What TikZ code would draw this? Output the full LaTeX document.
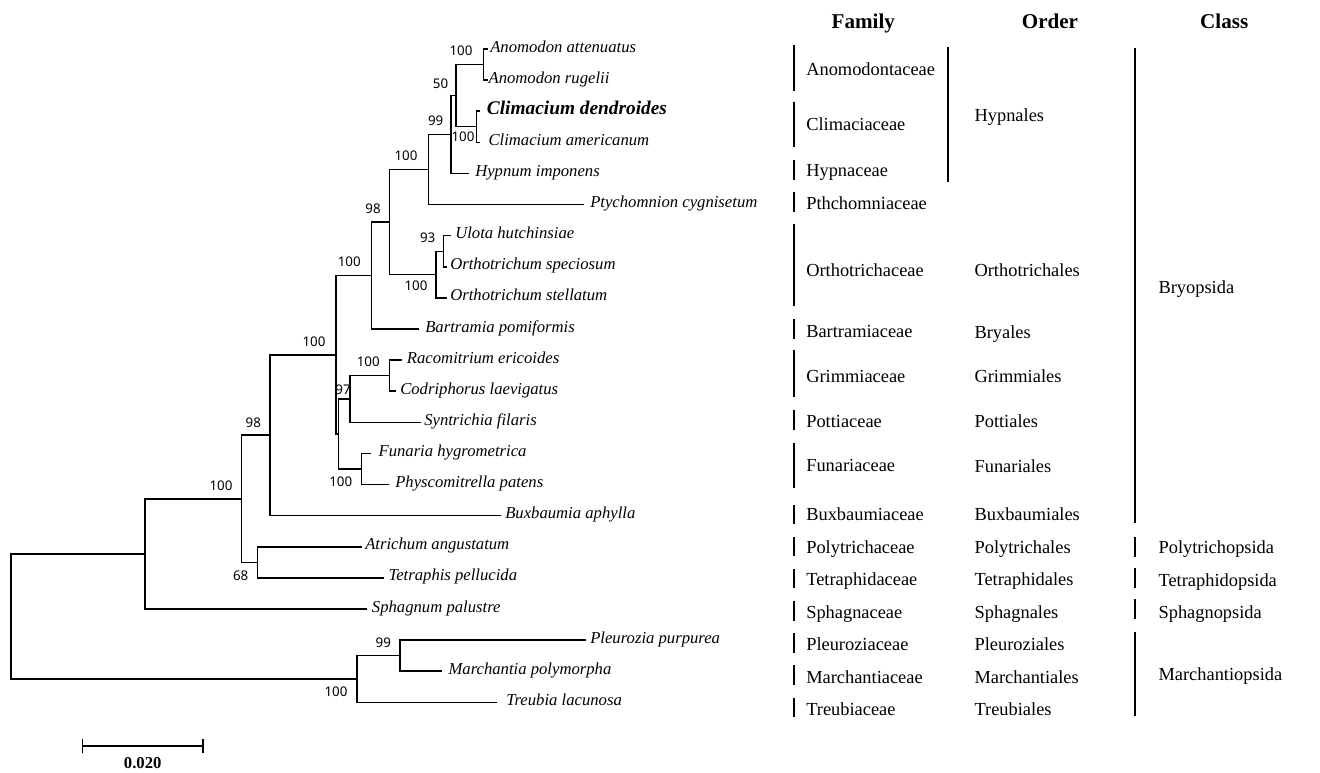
\documentclass[tikz,border=0pt]{standalone}
\usepackage{fontspec}
\setmainfont{Liberation Serif}
\newfontfamily\bootfont{Noto Sans}
\begin{document}
\begin{tikzpicture}[x=0.75pt,y=-0.75pt,
  br/.style={line width=1.1pt, line cap=rect},
  barline/.style={line width=1.7pt},
  leaf/.style={font=\fontsize{12.5}{14}\selectfont\itshape, anchor=mid west, inner sep=0pt},
  leafb/.style={font=\fontsize{14.5}{16}\selectfont\bfseries\itshape, anchor=mid west, inner sep=0pt},
  boot/.style={font=\bootfont\fontsize{10}{12}\selectfont, inner sep=0pt},
  tab/.style={font=\fontsize{13.8}{16}\selectfont, anchor=base west, inner sep=0pt},
  hdr/.style={font=\fontsize{15.8}{18}\selectfont\bfseries, anchor=base, inner sep=0pt}]
\fill[white] (0,0) rectangle (1320,772);
\useasboundingbox (0,0) rectangle (1320,772);

% ---------- leaf tips ----------
\coordinate (t0) at (487,49.0);
\coordinate (t1) at (487,80.1);
\coordinate (t2) at (479.3,111.2);
\coordinate (t3) at (479.3,142.3);
\coordinate (t4) at (468.3,173.4);
\coordinate (t5) at (583.3,204.6);
\coordinate (t6) at (450,235.7);
\coordinate (t7) at (446.7,266.8);
\coordinate (t8) at (446.7,297.9);
\coordinate (t9) at (418.3,329.0);
\coordinate (t10) at (401.7,360.1);
\coordinate (t11) at (395,391.2);
\coordinate (t12) at (420,422.3);
\coordinate (t13) at (370,453.4);
\coordinate (t14) at (388.3,484.5);
\coordinate (t15) at (500,515.7);
\coordinate (t16) at (361.7,546.8);
\coordinate (t17) at (383.3,577.9);
\coordinate (t18) at (366.7,609.0);
\coordinate (t19) at (585,640.1);
\coordinate (t20) at (441.7,671.2);
\coordinate (t21) at (496.7,702.3);

% ---------- leaf labels ----------
\node[leaf]  (L0)  at (490,49.0)   {Anomodon attenuatus};
\node[leaf]  (L1)  at (488.3,80.1) {Anomodon rugelii};
\node[leafb] (L2)  at (486.7,111.2){Climacium dendroides};
\node[leaf]  (L3)  at (488.3,142.3){Climacium americanum};
\node[leaf]  (L4)  at (475,173.4)  {Hypnum imponens};
\node[leaf]  (L5)  at (590,204.6)  {Ptychomnion cygnisetum};
\node[leaf]  (L6)  at (455,235.7)  {Ulota hutchinsiae};
\node[leaf]  (L7)  at (450,266.8)  {Orthotrichum speciosum};
\node[leaf]  (L8)  at (450,297.9)  {Orthotrichum stellatum};
\node[leaf]  (L9)  at (425,329.0)  {Bartramia pomiformis};
\node[leaf]  (L10) at (406.7,360.1){Racomitrium ericoides};
\node[leaf]  (L11) at (400,391.2)  {Codriphorus laevigatus};
\node[leaf]  (L12) at (424,422.3)  {Syntrichia filaris};
\node[leaf]  (L13) at (378.3,453.4){Funaria hygrometrica};
\node[leaf]  (L14) at (395,484.5)  {Physcomitrella patens};
\node[leaf]  (L15) at (505,515.7)  {Buxbaumia aphylla};
\node[leaf]  (L16) at (365,546.8)  {Atrichum angustatum};
\node[leaf]  (L17) at (388.3,577.9){Tetraphis pellucida};
\node[leaf]  (L18) at (371.7,609.0){Sphagnum palustre};
\node[leaf]  (L19) at (590,640.1)  {Pleurozia purpurea};
\node[leaf]  (L20) at (448.3,671.2){Marchantia polymorpha};
\node[leaf]  (L21) at (506,702.3)  {Treubia lacunosa};

% ---------- internal nodes ----------
\coordinate (nA)   at (483.3,64.55);
\coordinate (nC)   at (476.7,126.75);
\coordinate (nAC)  at (456,95.65);
\coordinate (nH)   at (451,134.5);
\coordinate (nP)   at (428.3,169.55);
\coordinate (nU)   at (443.3,251.25);
\coordinate (nO)   at (436,274.6);
\coordinate (nHO)  at (389.3,222.1);
\coordinate (nHOB) at (371.7,275.55);
\coordinate (nR)   at (389.3,375.65);
\coordinate (nRS)  at (350,398.98);
\coordinate (nF)   at (361.7,468.95);
\coordinate (nRSF) at (338.5,433.97);
\coordinate (nG)   at (336,354.76);
\coordinate (nBx)  at (270,435.2);
\coordinate (nAt)  at (257.3,562.35);
\coordinate (nM)   at (241.7,498.8);
\coordinate (nS)   at (145,553.9);
\coordinate (nPl)  at (400,655.65);
\coordinate (nMar) at (357,678.98);
\coordinate (nRoot) at (11,616.4);

% ---------- branches ----------
\draw[br] (nA) |- (t0);  \draw[br] (nA) |- (t1);
\draw[br] (nC) |- (t2);  \draw[br] (nC) |- (t3);
\draw[br] (nAC) |- (nA); \draw[br] (nAC) |- (nC);
\draw[br] (nH) |- (nAC); \draw[br] (nH) |- (t4);
\draw[br] (nP) |- (nH);  \draw[br] (nP) |- (t5);
\draw[br] (nU) |- (t6);  \draw[br] (nU) |- (t7);
\draw[br] (nO) |- (nU);  \draw[br] (nO) |- (t8);
\draw[br] (nHO) |- (nP); \draw[br] (nHO) |- (nO);
\draw[br] (nHOB) |- (nHO); \draw[br] (nHOB) |- (t9);
\draw[br] (nR) |- (t10); \draw[br] (nR) |- (t11);
\draw[br] (nRS) |- (nR); \draw[br] (nRS) |- (t12);
\draw[br] (nF) |- (t13); \draw[br] (nF) |- (t14);
\draw[br] (nRSF) |- (nRS); \draw[br] (nRSF) |- (nF);
\draw[br] (nG) |- (nHOB); \draw[br] (nG) |- (nRSF);
\draw[br] (nBx) |- (nG); \draw[br] (nBx) |- (t15);
\draw[br] (nAt) |- (t16); \draw[br] (nAt) |- (t17);
\draw[br] (nM) |- (nBx); \draw[br] (nM) |- (nAt);
\draw[br] (nS) |- (nM); \draw[br] (nS) |- (t18);
\draw[br] (nPl) |- (t19); \draw[br] (nPl) |- (t20);
\draw[br] (nMar) |- (nPl); \draw[br] (nMar) |- (t21);
\draw[br] (nRoot) |- (nS); \draw[br] (nRoot) |- (nMar);

% ---------- bootstrap values ----------
\node[boot] (bA)   at (461,50.7)   {100};
\node[boot] (bAC)  at (440.5,83.3) {50};
\node[boot] (bC)   at (463,136.7)  {100};
\node[boot] (bH)   at (435.7,120.7){99};
\node[boot] (bP)   at (406,156)    {100};
\node[boot] (bHO)  at (373,208.3)  {98};
\node[boot] (bHOB) at (349.3,262)  {100};
\node[boot] (bU)   at (427.7,237.7){93};
\node[boot] (bO)   at (416,286)    {100};
\node[boot] (bR)   at (368.3,361.7){100};
\node[boot] (bRS)  at (343,390)    {97};
\node[boot] (bF)   at (340.7,481.7){100};
\node[boot] (bG)   at (314,341.7)  {100};
\node[boot] (bBx)  at (253.3,422.3){98};
\node[boot] (bM)   at (221,486)    {100};
\node[boot] (bAt)  at (240.7,575.7){68};
\node[boot] (bPl)  at (383.3,642.7){99};
\node[boot] (bMar) at (336,691.3)  {100};

% ---------- scale bar ----------
\coordinate (s1) at (82.7,746);
\coordinate (s2) at (203,746);
\draw[br,line cap=butt] (s1) -- (s2);
\draw[br,line cap=butt] ([yshift=-5.5]s1) -- ([yshift=5.5]s1);
\draw[br,line cap=butt] ([yshift=-5.5]s2) -- ([yshift=5.5]s2);
\node[font=\fontsize{12.5}{14}\selectfont\bfseries, inner sep=0pt] (scl) at (142.7,763.5) {0.020};

% ---------- headers ----------
\node[hdr] (hF) at (863.3,28.3) {Family};
\node[hdr] (hO) at (1050,28.3) {Order};
\node[hdr] (hC) at (1224.2,28.3) {Class};

% ---------- family column ----------
\draw[barline] (794,45) -- (794,90.7);
\draw[barline] (794,101.7) -- (794,147.3);
\draw[barline] (794,160) -- (794,180);
\draw[barline] (794,191.7) -- (794,212.3);
\draw[barline] (794,224.3) -- (794,306);
\draw[barline] (794,319) -- (794,339.3);
\draw[barline] (794,350) -- (794,397);
\draw[barline] (794,410) -- (794,430);
\draw[barline] (794,442.7) -- (794,488.3);
\draw[barline] (794,505) -- (794,524);
\draw[barline] (794,537.3) -- (794,556);
\draw[barline] (794,569.3) -- (794,588.3);
\draw[barline] (794,600.7) -- (794,620.7);
\draw[barline] (794,633.3) -- (794,652.7);
\draw[barline] (794,665) -- (794,685);
\draw[barline] (794,697.7) -- (794,717.3);

\node[tab] (f1)  at (806,75.5)  {Anomodontaceae};
\node[tab] (f2)  at (806,130.5) {Climaciaceae};
\node[tab] (f3)  at (806,176.5) {Hypnaceae};
\node[tab] (f4)  at (806,209.2) {Pthchomniaceae};
\node[tab] (f5)  at (806,276.5) {Orthotrichaceae};
\node[tab] (f6)  at (806,337.5) {Bartramiaceae};
\node[tab] (f7)  at (806,382.2) {Grimmiaceae};
\node[tab] (f8)  at (806,427.5) {Pottiaceae};
\node[tab] (f9)  at (806,471.5) {Funariaceae};
\node[tab] (f10) at (806,520.8) {Buxbaumiaceae};
\node[tab] (f11) at (806,553.2) {Polytrichaceae};
\node[tab] (f12) at (806,585.8) {Tetraphidaceae};
\node[tab] (f13) at (806,618.2) {Sphagnaceae};
\node[tab] (f14) at (806,650.8) {Pleuroziaceae};
\node[tab] (f15) at (806,683.2) {Marchantiaceae};
\node[tab] (f16) at (806,715.8) {Treubiaceae};

% ---------- order column ----------
\draw[barline] (947.7,46.7) -- (947.7,181.7);
\node[tab] (o1)  at (974.3,121.5) {Hypnales};
\node[tab] (o2)  at (974.3,276.5) {Orthotrichales};
\node[tab] (o3)  at (974.3,338)   {Bryales};
\node[tab] (o4)  at (974.3,382.2) {Grimmiales};
\node[tab] (o5)  at (974.3,427.5) {Pottiales};
\node[tab] (o6)  at (974.3,472)   {Funariales};
\node[tab] (o7)  at (974.3,520.8) {Buxbaumiales};
\node[tab] (o8)  at (974.3,553.2) {Polytrichales};
\node[tab] (o9)  at (974.3,585.8) {Tetraphidales};
\node[tab] (o10) at (974.3,618.5) {Sphagnales};
\node[tab] (o11) at (974.3,650.8) {Pleuroziales};
\node[tab] (o12) at (974.3,683.2) {Marchantiales};
\node[tab] (o13) at (974.3,715.8) {Treubiales};

% ---------- class column ----------
\draw[barline] (1135,48.3) -- (1135,523.3);
\draw[barline] (1135,536.7) -- (1135,556.7);
\draw[barline] (1135,568.3) -- (1135,588.3);
\draw[barline] (1135,599.3) -- (1135,619.3);
\draw[barline] (1135,631.7) -- (1135,716);
\node[tab] (c1) at (1158.3,293.2) {Bryopsida};
\node[tab] (c2) at (1158.3,553.2) {Polytrichopsida};
\node[tab] (c3) at (1158.3,586.5) {Tetraphidopsida};
\node[tab] (c4) at (1158.3,618.5) {Sphagnopsida};
\node[tab] (c5) at (1158.3,680.8) {Marchantiopsida};
\end{tikzpicture}
\end{document}
